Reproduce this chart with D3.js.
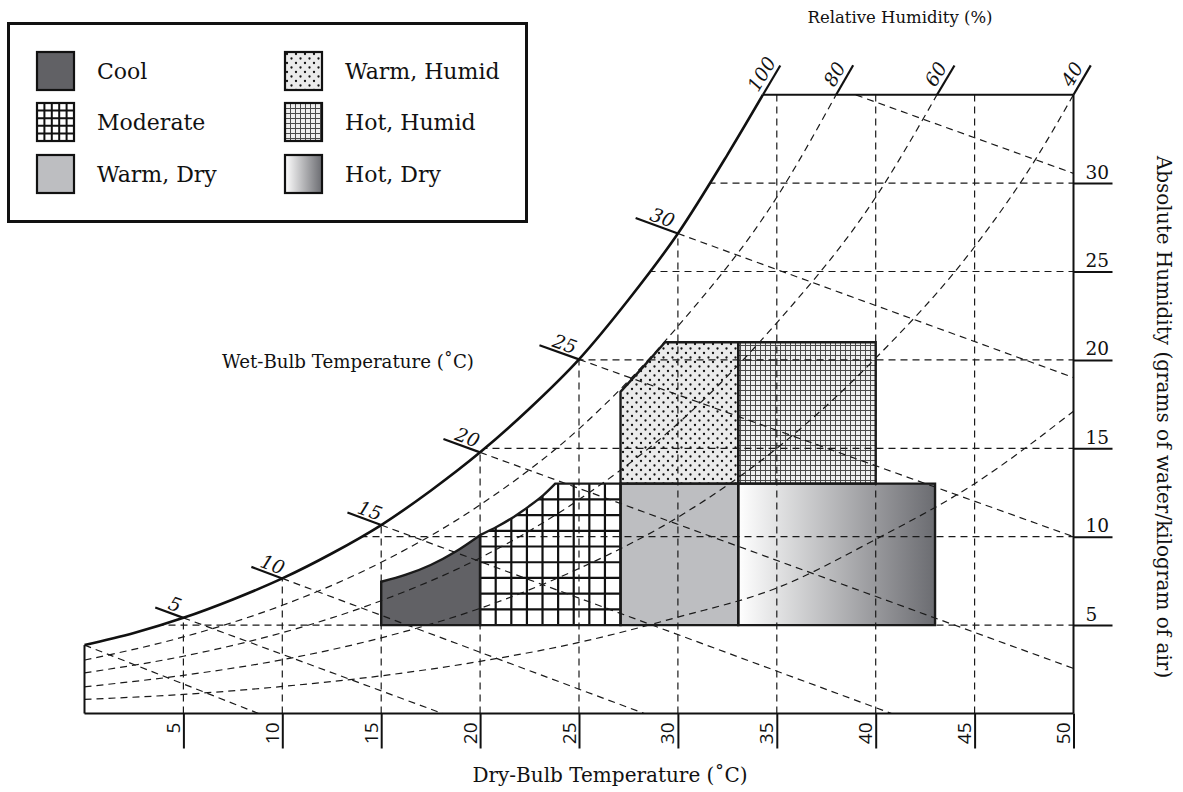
<!DOCTYPE html>
<html><head><meta charset="utf-8">
<script src="https://cdn.jsdelivr.net/npm/d3@7"></script>
<style>body{margin:0;background:#fff}svg{display:block}</style>
</head><body>
<svg id="chart" width="1183" height="792"></svg>
<script>
// ---------------- DATA ----------------
const dryBulbTicks = [5,10,15,20,25,30,35,40,45,50];
const humidityTicks = [5,10,15,20,25,30];
// saturation (100% RH) curve: [dry-bulb °C, g water / kg air]
const saturationCurve = [[0,3.87],[2.5,4.55],[5,5.41],[7.5,6.45],[10,7.64],[12.5,9.05],[15,10.66],[17.5,12.6],[20,14.77],[22.5,17.25],[25,20.03],[27.5,23.4],[30,27.15],[32.5,31.6],[34.3,35]];
const rh80Curve = [[0,3.02],[5,4.33],[10,6.12],[15,8.55],[20,11.8],[25,16.1],[30,21.9],[35,29.2],[38,35]];
const rh60Curve = [[0,2.3],[5,3.24],[10,4.57],[15,6.38],[20,8.8],[25,12.1],[30,16.4],[35,22.1],[40,29.2],[43.1,35]];
const rh40Curve = [[0,1.51],[5,2.16],[10,3.04],[15,4.28],[20,5.95],[25,8.2],[30,11.1],[35,15.0],[40,20.1],[45,26.4],[48,31.2],[50,35]];
const rh20Curve = [[0,0.8],[5,1.08],[10,1.53],[15,2.13],[20,2.95],[25,4.02],[30,5.45],[35,7.1],[40,9.85],[45,13.0],[50,17.1]];
const rhLabels = ["100","80","60","40"];
// wet-bulb lines
const wetBulbTemps = [0,5,10,15,20,25,30,35];
const wetBulbStartW = [3.87,5.41,7.64,10.66,14.77,20.03,27.15,36.6];
const wetBulbEnds = [[8.8,0],[18.1,0],[28.3,0],[40.8,0],[50,2.55],[50,10.0],[50,19.0],[50,30.55]];
const wetBulbLabels = [5,10,15,20,25,30];
// comfort zones: curved edge (left to right) + remaining corners (clockwise back to start)
const zoneNames = ["Cool","Moderate","Warm, Dry","Warm, Humid","Hot, Humid","Hot, Dry"];
const coolEdge = [[15,7.45],[16.25,7.85],[17.5,8.4],[18.75,9.15],[20,10.09]];
const coolCorners = [[20,5],[15,5]];
const moderateEdge = [[20,10.09],[20.85,10.56],[21.7,11.12],[22.45,11.7],[23.2,12.35],[23.8,13]];
const moderateCorners = [[27.1,13],[27.1,5],[20,5]];
const warmDryEdge = [[27.1,13],[33.05,13]];
const warmDryCorners = [[33.05,5],[27.1,5]];
const warmHumidEdge = [[27.1,18.2],[28.2,19.55],[29.35,21]];
const warmHumidCorners = [[33.05,21],[33.05,13],[27.1,13]];
const hotHumidEdge = [[33.05,21],[40,21]];
const hotHumidCorners = [[40,13],[33.05,13]];
const hotDryEdge = [[33.05,13],[43,13]];
const hotDryCorners = [[43,5],[33.05,5]];
const moderateGridCount = 9;

// ---------------- SETUP ----------------
const svg = d3.select("#chart");
const SERIF = "'DejaVu Serif', serif";
const SANS = "'Open Sans', sans-serif";
const x = d3.scaleLinear().domain([0,50]).range([84.5,1073.5]);
const y = d3.scaleLinear().domain([0,35]).range([713.5,94.7]);
const curveLine = d3.line().x(d=>x(d[0])).y(d=>y(d[1])).curve(d3.curveMonotoneX);
const zonePath = (edge,corners) => curveLine(edge) + corners.map(p=>`L${x(p[0])},${y(p[1])}`).join("") + "Z";

const zones = [[coolEdge,coolCorners],[moderateEdge,moderateCorners],[warmDryEdge,warmDryCorners],
  [warmHumidEdge,warmHumidCorners],[hotHumidEdge,hotHumidCorners],[hotDryEdge,hotDryCorners]];
const allPts = z => z[0].concat(z[1]);

const defs = svg.append("defs");
const satPath = curveLine(saturationCurve);
const clipD = satPath + `L${x(50)},${y(35)}L${x(50)},${y(0)}L${x(0)},${y(0)}Z`;
defs.append("clipPath").attr("id","chartClip").append("path").attr("d",clipD);
defs.append("clipPath").attr("id","modClip").append("path").attr("d",zonePath(moderateEdge,moderateCorners));

// patterns
const dots = defs.append("pattern").attr("id","dots").attr("patternUnits","userSpaceOnUse")
  .attr("width",9).attr("height",9);
dots.append("rect").attr("width",9).attr("height",9).attr("fill","#ebebeb");
dots.append("circle").attr("cx",2).attr("cy",2).attr("r",1.15).attr("fill","#111");
dots.append("circle").attr("cx",6.5).attr("cy",6.5).attr("r",1.15).attr("fill","#111");

const mesh = defs.append("pattern").attr("id","mesh").attr("patternUnits","userSpaceOnUse")
  .attr("width",5).attr("height",5);
mesh.append("rect").attr("width",5).attr("height",5).attr("fill","#eeeeee");
mesh.append("path").attr("d","M0.5,0V5M0,0.5H5").attr("stroke","#4a4a4a").attr("stroke-width",1);

const grad = defs.append("linearGradient").attr("id","hotdry").attr("x1","0").attr("x2","1").attr("y1","0").attr("y2","0");
grad.append("stop").attr("offset","0").attr("stop-color","#ffffff");
grad.append("stop").attr("offset","1").attr("stop-color","#6b6c71");

const zoneFills = ["#616165","#ffffff","#bdbec1","url(#dots)","url(#mesh)","url(#hotdry)"];

// ---------------- ZONE FILLS ----------------
const gz = svg.append("g");
zones.forEach((z,i)=>{
  gz.append("path").attr("d",zonePath(z[0],z[1])).attr("fill",zoneFills[i]);
});
// moderate coarse grid
const modPts = allPts(zones[1]);
const modT0 = d3.min(modPts,d=>d[0]), modT1 = d3.max(modPts,d=>d[0]);
const modW0 = d3.min(modPts,d=>d[1]), modW1 = d3.max(modPts,d=>d[1]);
const gm = gz.append("g").attr("clip-path","url(#modClip)").attr("stroke","#111").attr("stroke-width",2.2);
for(let i=1;i<moderateGridCount;i++){
  const t = modT0 + (modT1-modT0)*i/moderateGridCount;
  gm.append("line").attr("x1",x(t)).attr("x2",x(t)).attr("y1",y(modW0)).attr("y2",y(modW1));
  const w = modW0 + (modW1-modW0)*i/moderateGridCount;
  gm.append("line").attr("x1",x(modT0)).attr("x2",x(modT1)).attr("y1",y(w)).attr("y2",y(w));
}

// ---------------- DASHED LINES ----------------
const gd = svg.append("g").attr("clip-path","url(#chartClip)")
  .attr("fill","none").attr("stroke","#1a1a1a").attr("stroke-width",1.2).attr("stroke-dasharray","7,5");
dryBulbTicks.filter(t=>t<50).forEach(t=>{
  gd.append("line").attr("x1",x(t)).attr("x2",x(t)).attr("y1",y(0)).attr("y2",y(35));
});
humidityTicks.forEach(w=>{
  gd.append("line").attr("x1",x(0)).attr("x2",x(50)).attr("y1",y(w)).attr("y2",y(w));
});
[rh80Curve,rh60Curve,rh40Curve,rh20Curve].forEach(c=>{
  gd.append("path").attr("d",curveLine(c));
});
wetBulbTemps.forEach((tw,i)=>{
  gd.append("line").attr("x1",x(tw)).attr("y1",y(wetBulbStartW[i]))
    .attr("x2",x(wetBulbEnds[i][0])).attr("y2",y(wetBulbEnds[i][1]));
});

// ---------------- ZONE OUTLINES ----------------
zones.forEach(z=>{
  svg.append("path").attr("d",zonePath(z[0],z[1])).attr("fill","none").attr("stroke","#1a1a1a")
    .attr("stroke-width",2.4).attr("stroke-linejoin","miter");
});

// ---------------- FRAME & SATURATION ----------------
const gf = svg.append("g").attr("fill","none").attr("stroke","#111").attr("stroke-width",2.6);
gf.append("path").attr("d",satPath);
gf.append("line").attr("x1",x(34.3)).attr("x2",x(50)).attr("y1",y(35)).attr("y2",y(35)).attr("stroke-width",2);
gf.append("line").attr("x1",x(50)).attr("x2",x(50)).attr("y1",y(35)).attr("y2",y(0)).attr("stroke-width",2);
gf.append("line").attr("x1",x(0)).attr("x2",x(50)).attr("y1",y(0)).attr("y2",y(0)).attr("stroke-width",2);
gf.append("line").attr("x1",x(0)).attr("x2",x(0)).attr("y1",y(0)).attr("y2",y(saturationCurve[0][1])).attr("stroke-width",2);

// wet-bulb ticks and labels
wetBulbLabels.forEach(tw=>{
  const i = wetBulbTemps.indexOf(tw);
  const px0 = x(tw), py0 = y(wetBulbStartW[i]);
  const px1 = x(wetBulbEnds[i][0]), py1 = y(wetBulbEnds[i][1]);
  const len = Math.hypot(px1-px0,py1-py0);
  const ux = (px1-px0)/len, uy = (py1-py0)/len;
  const L = 30 + (tw-5)*0.6;
  const tx = px0 - ux*L, ty = py0 - uy*L;
  svg.append("line").attr("x1",px0).attr("y1",py0).attr("x2",tx).attr("y2",ty)
    .attr("stroke","#111").attr("stroke-width",2.2);
  const ang = Math.atan2(uy,ux)*180/Math.PI;
  svg.append("text").attr("transform",`translate(${(px0+tx)/2},${(py0+ty)/2}) rotate(${ang})`)
    .attr("x",2.5).attr("y",-3).attr("text-anchor","middle")
    .style("font-family",SERIF).style("font-style","italic").style("font-size","19px").attr("fill","#111")
    .text(tw);
});

// RH ticks at top
[saturationCurve,rh80Curve,rh60Curve,rh40Curve].forEach((c,i)=>{
  const a = c[c.length-2], b = c[c.length-1];
  const dx = x(b[0])-x(a[0]), dy = y(b[1])-y(a[1]);
  const len = Math.hypot(dx,dy); const ux=dx/len, uy=dy/len;
  const bx = x(b[0]), by = y(b[1]);
  svg.append("line").attr("x1",bx).attr("y1",by).attr("x2",bx+ux*34).attr("y2",by+uy*34)
    .attr("stroke","#111").attr("stroke-width",2.2);
  const ang = Math.atan2(uy,ux)*180/Math.PI;
  svg.append("text").attr("transform",`translate(${bx},${by}) rotate(${ang})`)
    .attr("x",17).attr("y",-5).attr("text-anchor","middle")
    .style("font-family",SERIF).style("font-style","italic").style("font-size","19px").attr("fill","#111")
    .text(rhLabels[i]);
});

// ---------------- AXES ----------------
const xAxis = svg.append("g").attr("transform",`translate(0,${y(0)})`)
  .call(d3.axisBottom(x).tickValues(dryBulbTicks).tickSize(35).tickSizeOuter(0));
xAxis.select(".domain").remove();
xAxis.selectAll(".tick line").attr("stroke","#111").attr("stroke-width",2);
xAxis.selectAll(".tick text").attr("transform","rotate(-90)").attr("x",-9).attr("y",-4).attr("dy",0)
  .attr("text-anchor","end").style("font-family",SANS).style("font-size","19px").attr("fill","#111");

const yAxis = svg.append("g").attr("transform",`translate(${x(50)},0)`)
  .call(d3.axisRight(y).tickValues(humidityTicks).tickSize(39).tickSizeOuter(0));
yAxis.select(".domain").remove();
yAxis.selectAll(".tick line").attr("stroke","#111").attr("stroke-width",2);
yAxis.selectAll(".tick text").attr("x",12).attr("y",-5).attr("dy",0).attr("text-anchor","start")
  .style("font-family",SERIF).style("font-size","18.5px").attr("fill","#111");

// ---------------- TITLES ----------------
svg.append("text").attr("x",610).attr("y",782).attr("text-anchor","middle")
  .style("font-family",SERIF).style("font-size","20px").attr("fill","#111").text("Dry-Bulb Temperature (˚C)");
svg.append("text").attr("x",900).attr("y",23).attr("text-anchor","middle")
  .style("font-family",SERIF).style("font-size","16.5px").attr("fill","#111").text("Relative Humidity (%)");
svg.append("text").attr("x",348).attr("y",368).attr("text-anchor","middle")
  .style("font-family",SERIF).style("font-size","18.2px").attr("fill","#111").text("Wet-Bulb Temperature (˚C)");
svg.append("text").attr("transform","translate(1157,417) rotate(90)").attr("text-anchor","middle")
  .style("font-family",SERIF).style("font-size","20px").attr("fill","#111")
  .text("Absolute Humidity (grams of water/kilogram of air)");

// ---------------- LEGEND ----------------
const lg = svg.append("g");
lg.append("rect").attr("x",8.5).attr("y",23.5).attr("width",518).attr("height",198)
  .attr("fill","#fff").attr("stroke","#111").attr("stroke-width",3);
const legCols = [37,285], legRows = [52,103,155], sw = 37, sh = 38;
zoneNames.forEach((name,i)=>{
  const cx = legCols[Math.floor(i/3)], cy = legRows[i%3];
  const g = lg.append("g").attr("transform",`translate(${cx},${cy})`);
  if(i===1){
    g.append("rect").attr("width",sw).attr("height",sh).attr("fill","#fff");
    for(let k=1;k<5;k++){
      g.append("line").attr("x1",sw*k/5).attr("x2",sw*k/5).attr("y1",0).attr("y2",sh).attr("stroke","#111").attr("stroke-width",2);
      g.append("line").attr("y1",sh*k/5).attr("y2",sh*k/5).attr("x1",0).attr("x2",sw).attr("stroke","#111").attr("stroke-width",2);
    }
  } else {
    g.append("rect").attr("width",sw).attr("height",sh).attr("fill",zoneFills[i]);
  }
  g.append("rect").attr("width",sw).attr("height",sh).attr("fill","none").attr("stroke","#111").attr("stroke-width",2.2);
  g.append("text").attr("x",sw+23).attr("y",sh/2+8).style("font-family",SERIF).style("font-size","22px")
    .attr("fill","#111").text(name);
});
</script>
</body></html>
